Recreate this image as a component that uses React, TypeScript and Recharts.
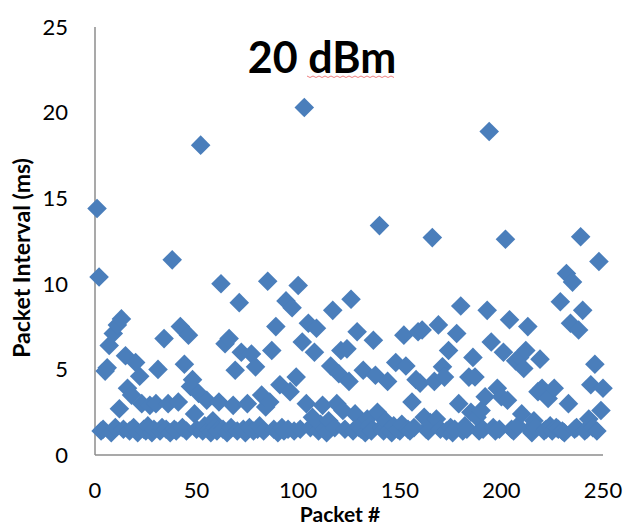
import React from 'react';
import { ScatterChart, Scatter, XAxis, YAxis, Label } from 'recharts';

// Packet interval (ms) for packets 1..250
const intervals1to50: number[] = [
  14.4, 10.4, 1.4, 1.5, 4.9, 5.1, 6.4, 1.3, 7.1, 1.6,
  7.6, 2.7, 7.95, 1.5, 5.8, 3.9, 1.4, 3.5, 1.6, 5.4,
  1.3, 4.6, 3.0, 1.5, 1.4, 1.7, 2.9, 1.3, 1.5, 3.0,
  5.0, 1.4, 1.6, 6.8, 1.5, 3.0, 1.3, 11.4, 1.5, 1.4,
  3.1, 7.5, 1.6, 5.3, 1.4, 7.0, 4.0, 4.4, 2.4, 1.5,
];
const intervals51to100: number[] = [
  3.6, 18.1, 1.4, 1.7, 3.2, 1.5, 1.3, 2.0, 1.6, 1.4,
  3.1, 10.0, 1.5, 6.5, 1.3, 6.8, 1.6, 2.9, 4.95, 1.4,
  8.9, 6.0, 1.5, 1.3, 3.0, 1.6, 5.9, 1.4, 5.15, 1.5,
  1.7, 3.5, 1.4, 2.8, 10.15, 3.1, 6.1, 1.5, 7.5, 1.3,
  4.1, 1.6, 1.4, 9.0, 1.5, 3.7, 8.6, 1.4, 4.55, 9.9,
];
const intervals101to150: number[] = [
  1.5, 6.6, 20.3, 3.0, 7.7, 1.6, 2.2, 6.0, 7.4, 1.4,
  1.8, 2.9, 1.5, 1.3, 2.0, 5.2, 8.45, 1.6, 3.0, 4.75,
  6.1, 2.6, 1.5, 6.2, 4.3, 9.1, 1.4, 2.4, 7.2, 1.6,
  1.5, 4.95, 1.3, 2.1, 1.7, 1.4, 6.7, 4.66, 2.5, 13.4,
  1.6, 1.4, 2.0, 4.3, 1.5, 1.3, 1.7, 5.4, 1.5, 1.4,
];
const intervals151to200: number[] = [
  1.8, 7.0, 5.2, 1.5, 1.4, 3.1, 1.6, 4.4, 7.2, 4.2,
  7.3, 2.2, 1.5, 1.4, 1.9, 12.7, 4.3, 2.1, 7.6, 1.5,
  5.15, 4.55, 1.4, 6.1, 1.6, 1.3, 1.5, 7.1, 3.0, 8.7,
  1.4, 1.7, 1.5, 4.55, 2.5, 5.7, 4.56, 2.2, 1.4, 2.6,
  1.5, 3.4, 8.45, 18.9, 6.6, 1.6, 1.4, 3.9, 1.5, 3.4,
];
const intervals201to250: number[] = [
  6.0, 12.6, 3.2, 7.9, 1.5, 1.4, 5.5, 1.7, 5.7, 2.4,
  5.05, 6.1, 7.5, 1.5, 1.3, 2.0, 1.6, 3.7, 5.6, 3.9,
  1.4, 1.5, 3.3, 1.7, 1.4, 3.9, 1.6, 1.5, 8.95, 1.4,
  1.3, 10.6, 3.0, 7.7, 10.1, 1.5, 1.6, 7.3, 12.75, 8.45,
  1.4, 1.5, 2.1, 4.1, 1.6, 5.3, 1.4, 11.3, 2.6, 3.9,
];

const xTicks = [0, 50, 100, 150, 200, 250];
const yTicks = [0, 5, 10, 15, 20, 25];
const chartTitle = '20 dBm';
const xTitle = 'Packet #';
const yTitle = 'Packet Interval (ms)';

const allIntervals = [
  ...intervals1to50,
  ...intervals51to100,
  ...intervals101to150,
  ...intervals151to200,
  ...intervals201to250,
];
const data = allIntervals.map((v, i) => ({ packet: i + 1, interval: v }));

const FONT = 'Lato, "Open Sans", sans-serif';
const BLUE = '#4A7EBB';

const Diamond = (props: any) => {
  const { cx, cy } = props;
  if (cx == null || cy == null) return null;
  const r = 9.8;
  return (
    <path
      d={`M${cx},${cy - r}L${cx + r},${cy}L${cx},${cy + r}L${cx - r},${cy}Z`}
      fill={BLUE}
    />
  );
};

export default function App() {
  return (
    <div style={{ position: 'absolute', left: 0, top: 0, width: 627, height: 527, background: '#fff' }}>
      <ScatterChart width={627} height={527} margin={{ top: 27, right: 24, bottom: 0, left: 0 }}>
        <XAxis
          type="number"
          dataKey="packet"
          domain={[0, 250]}
          ticks={xTicks}
          tickLine={false}
          tickSize={0}
          tickMargin={27}
          height={72}
          axisLine={{ stroke: '#8c8c8c', strokeWidth: 1.5 }}
          tick={{ fontSize: 22, fill: '#000', fontFamily: FONT }}
          interval={0}
        >
          <Label
            content={() => (
              <text x={340} y={522} textAnchor="middle" fontFamily={FONT} fontWeight="bold" fontSize={21} fill="#000">
                {xTitle}
              </text>
            )}
          />
        </XAxis>
        <YAxis
          type="number"
          dataKey="interval"
          domain={[0, 25]}
          ticks={yTicks}
          tickLine={false}
          tickSize={0}
          tickMargin={27}
          width={95}
          axisLine={{ stroke: '#8c8c8c', strokeWidth: 1.5 }}
          tick={{ fontSize: 22, fill: '#000', fontFamily: FONT }}
          interval={0}
        >
          <Label
            content={() => (
              <text
                x={30}
                y={258}
                transform="rotate(-90 30 258)"
                textAnchor="middle"
                fontFamily={FONT}
                fontWeight="bold"
                fontSize={23}
                fill="#000"
              >
                {yTitle}
              </text>
            )}
          />
        </YAxis>
        <Scatter data={data} fill={BLUE} shape={Diamond} isAnimationActive={false} />
      </ScatterChart>
      <svg width={627} height={527} style={{ position: 'absolute', left: 0, top: 0, pointerEvents: 'none' }}>
        <text x={322} y={73} textAnchor="middle" fontFamily={FONT} fontWeight="bold" fontSize={43} fill="#000">
          {chartTitle}
        </text>
        <path
          d="M307,76 l3,1.5 l3,-1.5 l3,1.5 l3,-1.5 l3,1.5 l3,-1.5 l3,1.5 l3,-1.5 l3,1.5 l3,-1.5 l3,1.5 l3,-1.5 l3,1.5 l3,-1.5 l3,1.5 l3,-1.5 l3,1.5 l3,-1.5 l3,1.5 l3,-1.5 l3,1.5 l3,-1.5 l3,1.5 l3,-1.5 l3,1.5 l3,-1.5 l3,1.5 l3,-1.5 l3,1.5"
          fill="none"
          stroke="#f08080"
          strokeWidth={1}
        />
      </svg>
    </div>
  );
}
